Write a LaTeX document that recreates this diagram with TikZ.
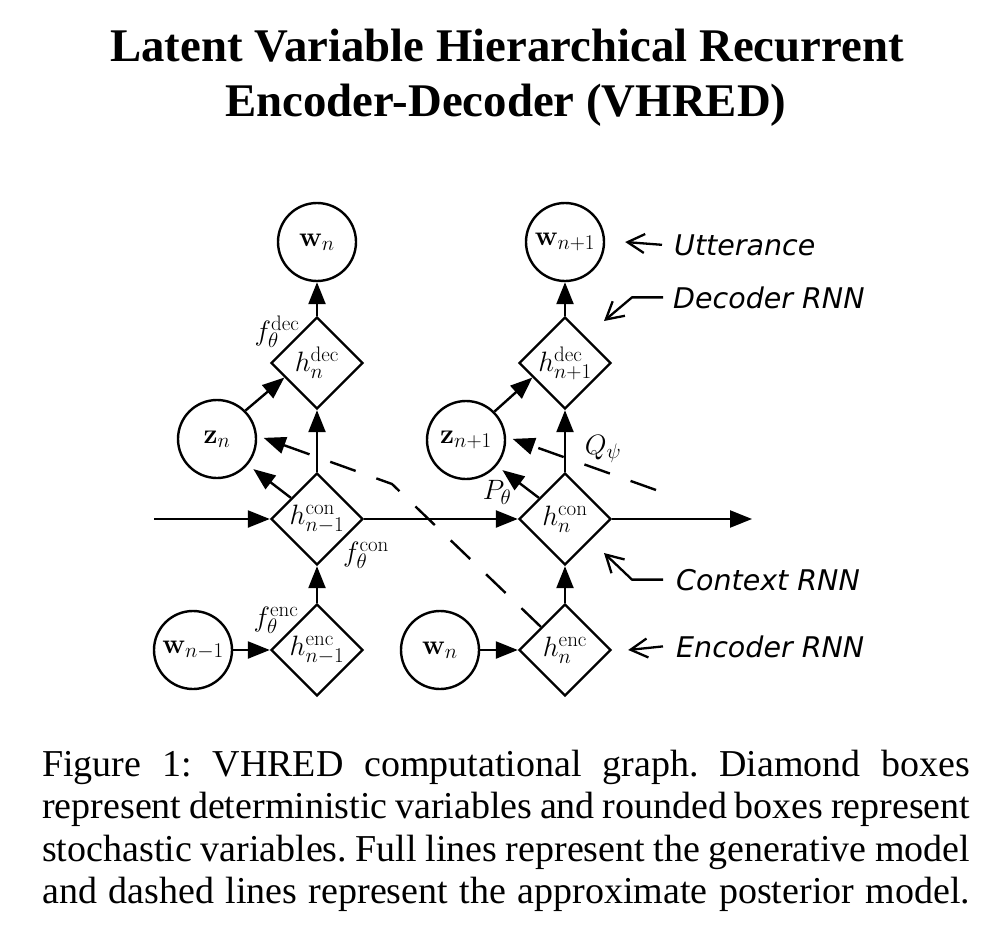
\RequirePackage{fix-cm}
\documentclass[tikz,border=0pt]{standalone}
\usepackage[no-math]{fontspec}
\usetikzlibrary{arrows.meta,shapes.geometric,positioning}
\newfontfamily\titlefont{Liberation Serif}
\newfontfamily\notefont{DejaVu Sans}
\newcommand\mfont{\fontsize{28}{32}\selectfont}
\DeclareMathSizes{28}{28}{21}{15}

\begin{document}
\begin{tikzpicture}[x=1pt, y=-1pt, >={Triangle[length=22pt,width=17pt]},
    var node/.style={circle,draw,line width=2.4pt,minimum size=78pt,inner sep=0pt,font=\mfont},
    det node/.style={diamond,draw,line width=2.4pt,minimum size=92pt,inner sep=-3pt,font=\mfont},
    gen/.style={->,line width=2.4pt},
    post/.style={->,line width=2.4pt,dash pattern=on 27pt off 22pt,shorten >=7pt},
    note/.style={-{Straight Barb[length=17pt,width=19pt]},line width=2.3pt},
    lbl/.style={font=\mfont,inner sep=0pt},
    note text/.style={font=\notefont\itshape\fontsize{28.5}{34}\selectfont,inner sep=0pt,anchor=base west}]

  \useasboundingbox (0,0) rectangle (993,939);

  % title
  \node[font=\titlefont\bfseries\fontsize{46.8}{55}\selectfont, anchor=base] (title1) at (507,62) {Latent Variable Hierarchical Recurrent};
  \node[font=\titlefont\bfseries\fontsize{46.8}{55}\selectfont, anchor=base] (title2) at (506,117) {Encoder-Decoder (VHRED)};

  % step n-1
  \node[var node] (w1) at (317,242) {$\mathbf{w}_n$};
  \node[det node] (dec1) at (317,363) {$h_n^{\mathrm{dec}}$};
  \node[var node] (z1) at (217,439) {$\mathbf{z}_n$};
  \node[det node] (con1) at (317,519) {$h_{n-1}^{\mathrm{con}}$};
  \node[det node] (enc1) at (317,650) {$h_{n-1}^{\mathrm{enc}}$};
  \node[var node] (wi1) at (193,650) {$\mathbf{w}_{n-1}$};

  % step n
  \node[var node] (w2) at (565,242) {$\mathbf{w}_{n+1}$};
  \node[det node] (dec2) at (565,363) {$h_{n+1}^{\mathrm{dec}}$};
  \node[var node] (z2) at (466,440) {$\mathbf{z}_{n+1}$};
  \node[det node] (con2) at (565,519) {$h_n^{\mathrm{con}}$};
  \node[det node] (enc2) at (565,650) {$h_n^{\mathrm{enc}}$};
  \node[var node] (wi2) at (440,650) {$\mathbf{w}_n$};

  \coordinate (lin) at (154,519);
  \coordinate (lout) at (752,519);
  \coordinate (k1) at (392,484);
  \coordinate (q) at (656,490);

  % edge labels
  \node[lbl] (fdec) at (277,332) {$f_\theta^{\mathrm{dec}}$};
  \node[lbl] (fcon) at (366,555) {$f_\theta^{\mathrm{con}}$};
  \node[lbl] (fenc) at (276,620) {$f_\theta^{\mathrm{enc}}$};
  \node[lbl] (ptheta) at (497,492) {$P_\theta$};
  \node[lbl] (qpsi) at (603,449) {$Q_\psi$};

\path[gen]
    (dec1) edge (w1)
    (con1) edge (dec1)
    (enc1) edge (con1)
    (wi1) edge (enc1)
    (z1.45) edge (dec1.204)
    (con1.141) edge[shorten >=7pt] (z1.320)

    (dec2) edge (w2)
    (con2) edge (dec2)
    (enc2) edge (con2)
    (wi2) edge (enc2)
    (z2.45) edge (dec2.204)
    (con2.141) edge[shorten >=7pt] (z2.320)

    (lin) edge (con1)
    (con1) edge (con2)
    (con2) edge (lout);

  % approximate posterior
  \draw[post] (enc2) -- (k1) -- (z1.5);
  \draw[post] (q) -- (z2.5);

  % notes
  \node[note text] (ut) at (674,255) {Utterance};
  \node[note text] (dr) at (673,308) {Decoder RNN};
  \node[note text] (cr) at (676,590) {Context RNN};
  \node[note text] (er) at (676,657) {Encoder RNN};

  \draw[note] ([xshift=-12pt]ut.west) -- ([xshift=20pt]w2.east);
  \draw[note] ([xshift=-10pt]dr.west) -- ++(-31,0) -- (604,321);
  \draw[note] ([xshift=-13pt]cr.west) -- ++(-31,0) -- (604,553);
  \draw[note] ([xshift=-13pt]er.west) -- ([xshift=16pt]enc2.east);

  % caption
  \begin{scope}[every node/.style={font=\titlefont\frenchspacing\fontsize{38}{42}\selectfont,inner sep=0pt,anchor=base west}]
  \node (cap1) at (42,776) {\makebox[928pt][s]{Figure 1: VHRED computational graph. Diamond boxes}};
  \node (cap2) at (42,818.5) {\makebox[928pt][s]{represent deterministic variables and rounded boxes represent}};
  \node (cap3) at (42,861) {\makebox[928pt][s]{stochastic variables. Full lines represent the generative model}};
  \node (cap4) at (42,903.5) {\makebox[928pt][s]{and dashed lines represent the approximate posterior model.}};
  \end{scope}

\end{tikzpicture}
\end{document}
